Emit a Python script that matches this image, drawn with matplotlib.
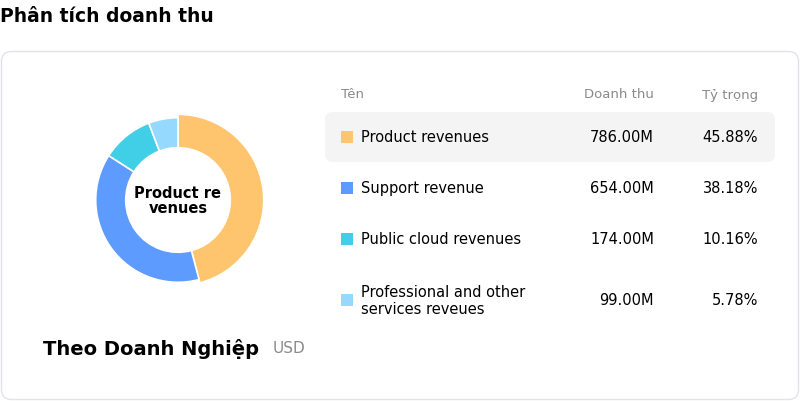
import matplotlib.pyplot as plt
from matplotlib.patches import FancyBboxPatch, Rectangle

names = ['Product revenues', 'Support revenue', 'Public cloud revenues',
         'Professional and other\nservices reveues']
revenues = [786.00, 654.00, 174.00, 99.00]
shares = [45.88, 38.18, 10.16, 5.78]
colors = ['#FFC46E', '#5E9BFF', '#40CFE6', '#96D9FF']
row_y = [138, 189, 240, 301]

W, H = 800, 402
fig = plt.figure(figsize=(8, 4.02), dpi=100)
bg = fig.add_axes([0, 0, 1, 1])
bg.set_xlim(0, W)
bg.set_ylim(H, 0)
bg.axis('off')

fig.text(0, 1 - 16 / H, 'Phân tích doanh thu', fontsize=13.5, fontweight='bold', va='center')

# card
bg.add_patch(FancyBboxPatch((1.5, 52.5), 797, 348, boxstyle='round,pad=0,rounding_size=10',
                            fc='white', ec='#e2e2ea', lw=1))

# donut
d = fig.add_axes([88 / W, 1 - 291 / H, 180 / W, 180 / H])
wedges, _ = d.pie(revenues, colors=colors, startangle=90, counterclock=False,
                  radius=0.96, wedgeprops=dict(width=0.35, edgecolor='white', linewidth=1.2))
wedges[0].set_radius(1.0)
wedges[0].set_width(0.39)
d.set_xlim(-1.05, 1.05)
d.set_ylim(-1.05, 1.05)
d.set_aspect('equal')
d.axis('off')
d.text(0, 0, 'Product re\nvenues', ha='center', va='center', fontsize=10.5,
       fontweight='bold', linespacing=1.0)

bg.text(43, 349, 'Theo Doanh Nghiệp', fontsize=14, fontweight='bold', va='center')
bg.text(273, 349, 'USD', fontsize=11, color='#8a8a8a', va='center')

# table
bg.text(341, 95, 'Tên', fontsize=9.5, color='#8a8a8a', va='center')
bg.text(654, 95, 'Doanh thu', fontsize=9.5, color='#8a8a8a', va='center', ha='right')
bg.text(758, 95, 'Tỷ trọng', fontsize=9.5, color='#8a8a8a', va='center', ha='right')
bg.add_patch(FancyBboxPatch((325, 113), 450, 50, boxstyle='round,pad=0,rounding_size=8',
                            fc='#f4f4f4', ec='none'))
for name, rev, sh, c, y in zip(names, revenues, shares, colors, row_y):
    bg.add_patch(Rectangle((341, y - 6), 12, 12, fc=c, ec='none'))
    bg.text(361, y, name, fontsize=10.5, va='center', linespacing=1.1)
    bg.text(654, y, f'{rev:.2f}M', fontsize=10.5, va='center', ha='right')
    bg.text(758, y, f'{sh:.2f}%', fontsize=10.5, va='center', ha='right')

fig.savefig('out.png', dpi=100)
